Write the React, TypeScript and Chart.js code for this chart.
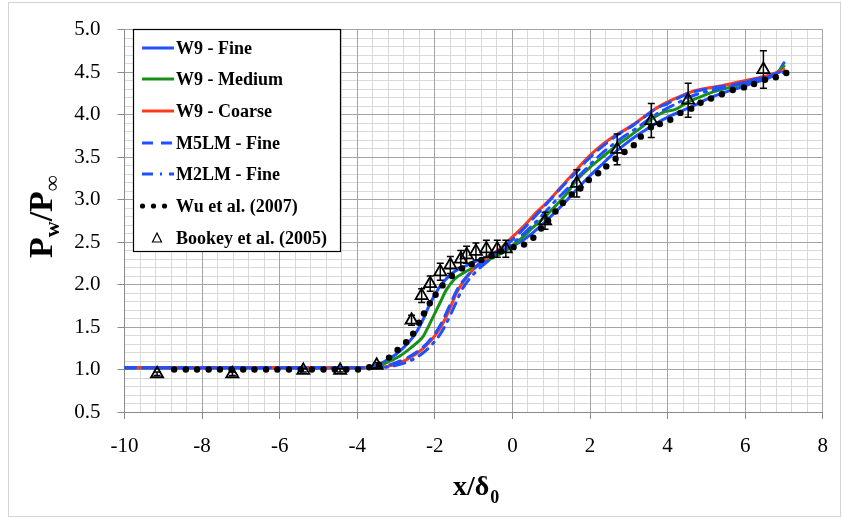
import React, { useEffect, useRef } from "react";
import { Chart, registerables } from "chart.js";
Chart.register(...registerables);

// ---------- data ----------
const W9_FINE_X = [-10, -8, -6, -4.5, -3.8, -3.6, -3.4, -3.2, -3.0, -2.8, -2.6, -2.45, -2.3, -2.15, -2.0, -1.85, -1.7, -1.5, -1.25, -1.0, -0.7, -0.4, -0.1, 0.2, 0.5, 0.8, 1.1, 1.4, 1.7, 2.0, 2.3, 2.6, 2.9, 3.2, 3.5, 3.8, 4.1, 4.4, 4.7, 5.0, 5.4, 5.8, 6.2, 6.6, 6.85, 7.0];
const W9_FINE_Y = [1.02, 1.02, 1.02, 1.02, 1.025, 1.04, 1.07, 1.12, 1.18, 1.26, 1.36, 1.46, 1.59, 1.75, 1.88, 1.99, 2.07, 2.15, 2.21, 2.26, 2.32, 2.37, 2.43, 2.5, 2.6, 2.72, 2.85, 2.99, 3.14, 3.28, 3.41, 3.54, 3.65, 3.75, 3.84, 3.92, 3.99, 4.05, 4.11, 4.18, 4.25, 4.31, 4.37, 4.43, 4.5, 4.61];

const W9_MED_X = [-10, -8, -6, -4.5, -3.8, -3.5, -3.2, -2.9, -2.66, -2.45, -2.3, -2.15, -2.0, -1.85, -1.7, -1.5, -1.25, -1.0, -0.7, -0.4, -0.1, 0.2, 0.5, 0.84, 1.1, 1.4, 1.66, 2.0, 2.4, 2.7, 3.0, 3.3, 3.6, 3.9, 4.2, 4.5, 4.8, 5.2, 5.6, 6.0, 6.4, 6.8, 7.0];
const W9_MED_Y = [1.02, 1.02, 1.02, 1.02, 1.02, 1.03, 1.09, 1.16, 1.24, 1.32, 1.39, 1.52, 1.66, 1.8, 1.94, 2.06, 2.14, 2.2, 2.27, 2.34, 2.42, 2.53, 2.66, 2.8, 2.92, 3.07, 3.23, 3.38, 3.53, 3.64, 3.74, 3.84, 3.95, 4.03, 4.06, 4.14, 4.2, 4.27, 4.32, 4.37, 4.43, 4.49, 4.57];

const W9_COARSE_X = [-10, -8, -6, -4.5, -3.8, -3.5, -3.2, -3.0, -2.75, -2.5, -2.3, -2.1, -1.9, -1.75, -1.6, -1.45, -1.3, -1.1, -0.9, -0.7, -0.5, -0.3, 0.0, 0.3, 0.6, 0.9, 1.2, 1.5, 1.75, 2.0, 2.3, 2.6, 2.9, 3.2, 3.5, 3.8, 4.1, 4.4, 4.7, 5.0, 5.4, 5.8, 6.2, 6.6, 7.0];
const W9_COARSE_Y = [1.02, 1.02, 1.025, 1.02, 1.02, 1.02, 1.04, 1.06, 1.11, 1.18, 1.25, 1.34, 1.46, 1.58, 1.73, 1.89, 2.01, 2.13, 2.23, 2.3, 2.36, 2.43, 2.56, 2.69, 2.84, 2.97, 3.12, 3.27, 3.4, 3.52, 3.64, 3.74, 3.82, 3.91, 4.01, 4.1, 4.17, 4.23, 4.28, 4.31, 4.34, 4.38, 4.42, 4.46, 4.53];

const M5LM_X = [-10, -8, -6, -4.5, -3.6, -3.3, -3.0, -2.7, -2.45, -2.2, -2.0, -1.85, -1.7, -1.55, -1.4, -1.2, -1.0, -0.8, -0.5, -0.2, 0.1, 0.4, 0.7, 1.0, 1.3, 1.6, 1.9, 2.2, 2.5, 2.8, 3.1, 3.4, 3.7, 4.0, 4.3, 4.6, 5.0, 5.4, 5.8, 6.2, 6.6, 7.0];
const M5LM_Y = [1.02, 1.02, 1.02, 1.02, 1.02, 1.04, 1.08, 1.14, 1.21, 1.31, 1.42, 1.53, 1.67, 1.82, 1.96, 2.08, 2.18, 2.26, 2.35, 2.45, 2.57, 2.71, 2.86, 3.01, 3.16, 3.3, 3.45, 3.58, 3.69, 3.79, 3.87, 3.97, 4.07, 4.13, 4.2, 4.26, 4.3, 4.33, 4.36, 4.41, 4.45, 4.52];

const M2LM_X = [-10, -8, -6, -4.5, -3.5, -3.2, -2.9, -2.6, -2.35, -2.1, -1.9, -1.75, -1.6, -1.45, -1.3, -1.1, -0.9, -0.7, -0.4, -0.1, 0.2, 0.5, 0.8, 1.1, 1.4, 1.7, 2.0, 2.3, 2.6, 2.9, 3.2, 3.5, 3.8, 4.1, 4.4, 4.7, 5.0, 5.4, 5.8, 6.2, 6.6, 7.0];
const M2LM_Y = [1.02, 1.02, 1.02, 1.02, 1.02, 1.03, 1.06, 1.11, 1.18, 1.28, 1.39, 1.5, 1.64, 1.79, 1.94, 2.07, 2.17, 2.25, 2.35, 2.45, 2.56, 2.69, 2.83, 2.98, 3.12, 3.27, 3.41, 3.54, 3.65, 3.75, 3.84, 3.94, 4.03, 4.1, 4.17, 4.23, 4.27, 4.31, 4.35, 4.4, 4.44, 4.5];

const WU_X = [-8.72, -8.42, -8.13, -7.83, -7.54, -7.24, -6.94, -6.65, -6.35, -6.06, -5.76, -5.46, -5.17, -4.87, -4.58, -4.28, -3.98, -3.69, -3.44, -3.18, -2.96, -2.74, -2.56, -2.41, -2.28, -2.13, -1.98, -1.8, -1.56, -1.3, -1.05, -0.8, -0.54, -0.29, 0.03, 0.3, 0.54, 0.74, 0.92, 1.11, 1.3, 1.53, 1.75, 1.97, 2.21, 2.42, 2.66, 2.89, 3.13, 3.31, 3.57, 3.8, 4.07, 4.33, 4.61, 4.85, 5.12, 5.4, 5.68, 5.97, 6.23, 6.51, 6.79, 7.06];
const WU_Y = [1.0, 1.0, 1.0, 1.0, 1.0, 1.0, 1.0, 1.0, 1.0, 1.0, 1.0, 1.0, 1.0, 1.0, 1.0, 1.0, 1.0, 1.026, 1.057, 1.14, 1.23, 1.32, 1.42, 1.55, 1.66, 1.78, 1.88, 1.99, 2.1, 2.19, 2.24, 2.29, 2.34, 2.39, 2.44, 2.47, 2.55, 2.66, 2.75, 2.86, 2.96, 3.06, 3.13, 3.23, 3.31, 3.39, 3.48, 3.56, 3.64, 3.74, 3.85, 3.89, 3.94, 4.02, 4.07, 4.14, 4.19, 4.24, 4.29, 4.32, 4.36, 4.41, 4.44, 4.49];

const BOOKEY_X = [-9.16, -7.22, -5.39, -4.44, -3.5, -2.6, -2.34, -2.12, -1.86, -1.6, -1.33, -1.18, -0.94, -0.67, -0.39, -0.17, 0.84, 1.66, 2.7, 3.58, 4.53, 6.47];
const BOOKEY_Y = [0.95, 0.95, 0.99, 0.99, 1.05, 1.58, 1.87, 2.01, 2.15, 2.23, 2.3, 2.35, 2.39, 2.42, 2.42, 2.42, 2.75, 3.19, 3.59, 3.93, 4.17, 4.53];
const BOOKEY_ERR = [0.02, 0.02, 0.02, 0.02, 0.03, 0.06, 0.08, 0.09, 0.1, 0.1, 0.1, 0.1, 0.1, 0.1, 0.1, 0.1, 0.1, 0.16, 0.18, 0.2, 0.2, 0.22];

const SERIES_NAMES = ["W9 - Fine", "W9 - Medium", "W9 - Coarse", "M5LM - Fine", "M2LM - Fine", "Wu et al. (2007)", "Bookey et al. (2005)"];

// ---------- styles ----------
const FONT = "'Liberation Serif', 'Times New Roman', serif";
const BLUE = "#1f4fff";
const GREEN = "#169018";
const RED = "#ff3a1c";
const DASH_M5 = [11, 8];
const DASH_M2 = [11, 7, 2, 7];

const isMajorX = (v: number) => Math.abs(v / 2 - Math.round(v / 2)) < 1e-6;
const isMajorY = (v: number) => Math.abs(v * 2 - Math.round(v * 2)) < 1e-6;
const zip = (xs: number[], ys: number[]) => xs.map((x, i) => ({ x, y: ys[i] }));
const align = (p: number) => Math.round(p - 0.5) + 0.5;

const framePlugin = {
  id: "frame",
  beforeDraw(chart: any) {
    const ctx = chart.ctx;
    ctx.save();
    ctx.fillStyle = "#ffffff";
    ctx.fillRect(0, 0, chart.width, chart.height);
    ctx.strokeStyle = "#d4d4d4";
    ctx.lineWidth = 1;
    ctx.strokeRect(8.5, 2.5, 832, 514);
    ctx.restore();
  },
};

const gridPlugin = {
  id: "grid2",
  beforeDatasetsDraw(chart: any) {
    const { ctx, chartArea: a } = chart;
    const xs = chart.scales.x;
    const ys = chart.scales.y;
    ctx.save();
    ctx.lineWidth = 1;
    const pass = (major: boolean) => {
      ctx.strokeStyle = major ? "#a4a4a4" : "#d9d9d9";
      ctx.beginPath();
      xs.ticks.forEach((t: any) => {
        if (isMajorX(t.value) !== major) return;
        const p = align(xs.getPixelForValue(t.value));
        ctx.moveTo(p, a.top);
        ctx.lineTo(p, a.bottom);
      });
      ys.ticks.forEach((t: any) => {
        if (isMajorY(t.value) !== major) return;
        const p = align(ys.getPixelForValue(t.value));
        ctx.moveTo(a.left, p);
        ctx.lineTo(a.right, p);
      });
      ctx.stroke();
    };
    pass(false);
    pass(true);
    ctx.strokeStyle = "#8a8a8a";
    ctx.beginPath();
    ctx.moveTo(align(a.left), a.top);
    ctx.lineTo(align(a.left), align(a.bottom));
    ctx.lineTo(a.right, align(a.bottom));
    ctx.stroke();
    ctx.restore();
  },
};

const errorBarPlugin = {
  id: "errbars",
  afterDatasetsDraw(chart: any) {
    const { ctx } = chart;
    const xs = chart.scales.x;
    const ys = chart.scales.y;
    ctx.save();
    ctx.strokeStyle = "#000";
    ctx.lineWidth = 1.5;
    BOOKEY_X.forEach((x, i) => {
      const px = xs.getPixelForValue(x);
      const y1 = ys.getPixelForValue(BOOKEY_Y[i] - BOOKEY_ERR[i]);
      const y2 = ys.getPixelForValue(BOOKEY_Y[i] + BOOKEY_ERR[i]);
      ctx.beginPath();
      ctx.moveTo(px, y1);
      ctx.lineTo(px, y2);
      ctx.moveTo(px - 3.5, y1);
      ctx.lineTo(px + 3.5, y1);
      ctx.moveTo(px - 3.5, y2);
      ctx.lineTo(px + 3.5, y2);
      ctx.stroke();
    });
    ctx.restore();
  },
};

const legendPlugin = {
  id: "legendBox",
  afterDatasetsDraw(chart: any) {
    const { ctx } = chart;
    ctx.save();
    ctx.fillStyle = "#fff";
    ctx.fillRect(133, 29, 207, 222);
    ctx.strokeStyle = "#000";
    ctx.lineWidth = 1.2;
    ctx.strokeRect(133.5, 29.5, 207, 222);
    const rows = [48, 79, 111, 143, 174, 206, 238];
    const kinds = [
      { c: BLUE, d: [] as number[] },
      { c: GREEN, d: [] as number[] },
      { c: RED, d: [] as number[] },
      { c: BLUE, d: DASH_M5 },
      { c: BLUE, d: DASH_M2 },
    ];
    ctx.font = `bold 18px ${FONT}`;
    ctx.textBaseline = "middle";
    ctx.textAlign = "left";
    SERIES_NAMES.forEach((name, i) => {
      const y = rows[i];
      if (i < 5) {
        ctx.strokeStyle = kinds[i].c;
        ctx.lineWidth = 3;
        ctx.setLineDash(kinds[i].d);
        ctx.beginPath();
        ctx.moveTo(142, y);
        ctx.lineTo(174, y);
        ctx.stroke();
        ctx.setLineDash([]);
      } else if (i === 5) {
        ctx.fillStyle = "#000";
        [142.5, 153.5, 164.5].forEach((cx) => {
          ctx.beginPath();
          ctx.arc(cx, y, 2.6, 0, Math.PI * 2);
          ctx.fill();
        });
      } else {
        ctx.strokeStyle = "#000";
        ctx.lineWidth = 1.2;
        ctx.beginPath();
        ctx.moveTo(157, y - 5);
        ctx.lineTo(161.5, y + 4);
        ctx.lineTo(152.5, y + 4);
        ctx.closePath();
        ctx.stroke();
      }
      ctx.fillStyle = "#000";
      ctx.fillText(name, 176, y + 1);
    });
    ctx.restore();
  },
};

const titlePlugin = {
  id: "titles",
  afterDraw(chart: any) {
    const { ctx } = chart;
    ctx.save();
    ctx.fillStyle = "#000";
    ctx.textBaseline = "alphabetic";
    ctx.textAlign = "left";
    // x title: x/δ0
    const big = `bold 28px ${FONT}`;
    const small = `bold 18px ${FONT}`;
    let x = 453;
    ctx.font = big;
    ctx.fillText("x/δ", x, 495);
    x += ctx.measureText("x/δ").width;
    ctx.font = small;
    ctx.fillText("0", x + 1, 503);
    // y title: Pw/P∞ rotated
    ctx.translate(52, 258);
    ctx.rotate(-Math.PI / 2);
    const big2 = `bold 34px ${FONT}`;
    const small2 = `bold 22px ${FONT}`;
    let t = 0;
    ctx.font = big2;
    ctx.fillText("P", t, 0);
    t += ctx.measureText("P").width;
    ctx.font = small2;
    ctx.fillText("w", t, 7);
    t += ctx.measureText("w").width;
    ctx.font = big2;
    ctx.fillText("/P", t, 0);
    t += ctx.measureText("/P").width;
    ctx.font = small2;
    ctx.fillText("∞", t, 7);
    ctx.restore();
  },
};

const lineDs = (label: string, xs: number[], ys: number[], color: string, dash: number[]) => ({
  label,
  data: zip(xs, ys),
  showLine: true,
  borderColor: color,
  backgroundColor: color,
  borderWidth: 3,
  borderDash: dash,
  pointRadius: 0,
  tension: 0.35,
  cubicInterpolationMode: "monotone",
  borderCapStyle: "round",
  borderJoinStyle: "round",
});

export default function App() {
  const ref = useRef<HTMLCanvasElement>(null);
  useEffect(() => {
    const canvas = ref.current;
    if (!canvas) return;
    const chart = new Chart(canvas, {
      type: "scatter",
      data: {
        datasets: [
          {
            label: SERIES_NAMES[6],
            data: zip(BOOKEY_X, BOOKEY_Y),
            showLine: false,
            pointStyle: "triangle",
            pointRadius: 7,
            borderColor: "#000",
            backgroundColor: "rgba(0,0,0,0)",
            borderWidth: 1.8,
          },
          {
            label: SERIES_NAMES[5],
            data: zip(WU_X, WU_Y),
            showLine: false,
            pointStyle: "circle",
            pointRadius: 3.2,
            borderWidth: 0,
            backgroundColor: "#000",
            borderColor: "#000",
          },
          lineDs(SERIES_NAMES[4], M2LM_X, M2LM_Y, BLUE, DASH_M2),
          lineDs(SERIES_NAMES[3], M5LM_X, M5LM_Y, BLUE, DASH_M5),
          lineDs(SERIES_NAMES[2], W9_COARSE_X, W9_COARSE_Y, RED, []),
          lineDs(SERIES_NAMES[1], W9_MED_X, W9_MED_Y, GREEN, []),
          lineDs(SERIES_NAMES[0], W9_FINE_X, W9_FINE_Y, BLUE, []),
        ] as any,
      },
      options: {
        responsive: false,
        animation: false,
        devicePixelRatio: 1,
        layout: { padding: { left: 0, top: 24, right: 11, bottom: 0 } },
        plugins: { legend: { display: false }, tooltip: { enabled: false } },
        scales: {
          x: {
            type: "linear",
            min: -10,
            max: 8,
            afterFit: (s: any) => {
              s.height = 106;
            },
            ticks: {
              stepSize: 0.4,
              autoSkip: false,
              maxRotation: 0,
              minRotation: 0,
              maxTicksLimit: 1000,
              padding: 15,
              color: "#000",
              font: { family: FONT, size: 21 },
              callback: (v: any) => (isMajorX(Number(v)) ? String(Math.round(Number(v))) : ""),
            },
            grid: {
              drawOnChartArea: false,
              drawTicks: true,
              tickLength: 7,
              tickColor: (c: any) => (c.tick && isMajorX(c.tick.value) ? "#8a8a8a" : "rgba(0,0,0,0)"),
            },
            border: { display: true, color: "#8a8a8a" },
          },
          y: {
            type: "linear",
            min: 0.5,
            max: 5,
            afterFit: (s: any) => {
              s.width = 124.5;
            },
            ticks: {
              stepSize: 0.1,
              autoSkip: false,
              maxTicksLimit: 1000,
              padding: 17,
              color: "#000",
              font: { family: FONT, size: 21 },
              callback: (v: any) => (isMajorY(Number(v)) ? Number(v).toFixed(1) : ""),
            },
            grid: {
              drawOnChartArea: false,
              drawTicks: true,
              tickLength: 7,
              tickColor: (c: any) => (c.tick && isMajorY(c.tick.value) ? "#8a8a8a" : "rgba(0,0,0,0)"),
            },
            border: { display: true, color: "#8a8a8a" },
          },
        },
      } as any,
      plugins: [framePlugin, gridPlugin, errorBarPlugin, legendPlugin, titlePlugin],
    });
    return () => chart.destroy();
  }, []);
  return (
    <div style={{ position: "fixed", left: 0, top: 0, width: 843, height: 518, background: "#fff" }}>
      <canvas ref={ref} width={843} height={518} style={{ display: "block", width: 843, height: 518 }} />
    </div>
  );
}
